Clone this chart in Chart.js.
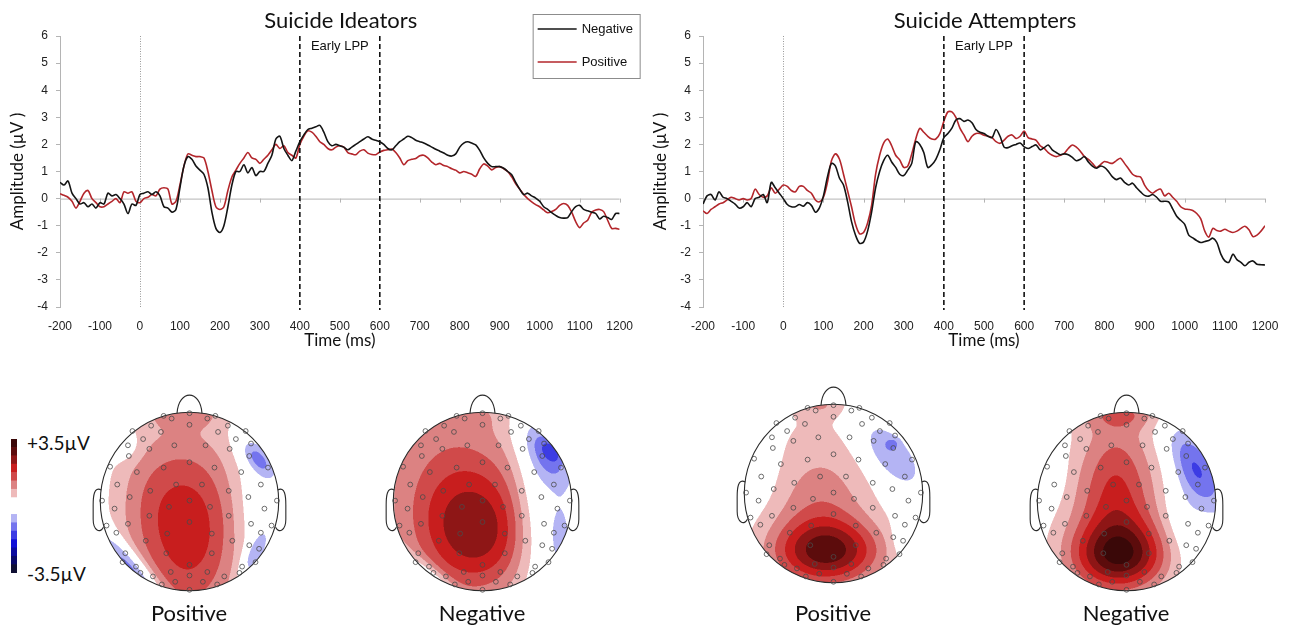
<!DOCTYPE html>
<html lang="en">
<head>
<meta charset="UTF-8">
<title>Early LPP - Suicide Ideators vs Attempters</title>
<script src="https://cdn.jsdelivr.net/npm/chart.js@4.4.0/dist/chart.umd.min.js"></script>
<style>
  body { margin: 0; background: #fff; width: 1291px; height: 625px; position: relative; overflow: hidden; }
  canvas { position: absolute; }
  .lbl { position: absolute; font-family: Lato, sans-serif; color: #111; transform: translate(-50%, -50%); white-space: nowrap; }
  .cb { position: absolute; font-family: Lato, sans-serif; color: #111; font-size: 19px; transform: translateY(-50%); white-space: nowrap; }
</style>
</head>
<body>

<canvas id="erpIdeators" width="645" height="360" style="left:0;top:0"></canvas>
<canvas id="erpAttempters" width="648" height="360" style="left:643px;top:0"></canvas>

<canvas id="colorbar" width="6" height="134" style="left:11px;top:439px"></canvas>
<div class="cb" style="left:27px;top:442px">+3.5µV</div>
<div class="cb" style="left:27px;top:573px">-3.5µV</div>

<canvas id="mapIdPos" width="223" height="223" style="left:78px;top:390px"></canvas>
<canvas id="mapIdNeg" width="223" height="223" style="left:371px;top:390px"></canvas>
<canvas id="mapAtPos" width="223" height="223" style="left:722px;top:382px"></canvas>
<canvas id="mapAtNeg" width="223" height="223" style="left:1015px;top:390px"></canvas>

<div class="lbl" style="left:189px;top:612px;font-size:22px">Positive</div>
<div class="lbl" style="left:482px;top:612px;font-size:22px">Negative</div>
<div class="lbl" style="left:833px;top:612px;font-size:22px">Positive</div>
<div class="lbl" style="left:1126px;top:612px;font-size:22px">Negative</div>

<script>
// time axis (ms), one sample every 10 ms
const timeMs = [
  -200,-190,-180,-170,-160,-150,-140,-130,-120,-110,
  -100,-90,-80,-70,-60,-50,-40,-30,-20,-10,
  0,10,20,30,40,50,60,70,80,90,
  100,110,120,130,140,150,160,170,180,190,
  200,210,220,230,240,250,260,270,280,290,
  300,310,320,330,340,350,360,370,380,390,
  400,410,420,430,440,450,460,470,480,490,
  500,510,520,530,540,550,560,570,580,590,
  600,610,620,630,640,650,660,670,680,690,
  700,710,720,730,740,750,760,770,780,790,
  800,810,820,830,840,850,860,870,880,890,
  900,910,920,930,940,950,960,970,980,990,
  1000,1010,1020,1030,1040,1050,1060,1070,1080,1090,
  1100,1110,1120,1130,1140,1150,1160,1170,1180,1190,
  1200
];

// Suicide Ideators
const ideatorsNegative = [
  0.6,0.5,0.65,0.2,0.0,-0.2,-0.15,-0.3,-0.2,-0.35,
  -0.15,-0.2,0.2,0.1,0.15,0.0,-0.2,-0.55,-0.2,-0.25,
  0.15,0.2,0.25,0.15,0.25,0.1,-0.3,-0.35,-0.5,-0.4,
  0.4,1.2,1.55,1.45,1.2,1.05,0.9,0.4,-0.5,-1.1,
  -1.25,-1.0,-0.3,0.5,1.0,1.0,1.25,0.95,1.15,0.85,
  1.0,1.0,1.3,1.6,2.2,2.3,1.85,1.6,1.4,1.75,
  2.1,2.35,2.55,2.6,2.65,2.7,2.45,2.1,1.95,2.0,
  1.95,1.9,1.8,1.9,2.0,2.1,2.2,2.28,2.2,2.15,
  2.1,2.0,1.85,1.8,1.95,2.1,2.2,2.3,2.25,2.15,
  2.1,2.05,1.98,1.9,1.82,1.75,1.68,1.6,1.57,1.65,
  1.9,2.05,2.1,2.05,1.98,1.78,1.5,1.3,1.18,1.18,
  1.18,1.12,1.0,0.88,0.6,0.35,0.15,0.2,0.1,0.02,
  -0.1,-0.3,-0.4,-0.52,-0.62,-0.7,-0.72,-0.7,-0.48,-0.3,
  -0.25,-0.4,-0.45,-0.5,-0.55,-0.75,-0.65,-0.7,-0.77,-0.55,
  -0.55
];
const ideatorsPositive = [
  0.18,0.12,0.05,-0.1,-0.35,-0.1,0.2,0.3,0.0,-0.15,
  -0.3,-0.3,-0.2,-0.1,0.0,-0.15,0.25,0.2,0.25,-0.1,
  -0.15,0.0,0.05,0.15,0.1,0.35,0.4,0.35,-0.2,-0.1,
  0.5,1.2,1.65,1.6,1.55,1.55,1.5,1.0,0.3,-0.3,
  -0.4,-0.3,0.3,0.8,1.05,1.3,1.5,1.7,1.5,1.45,
  1.3,1.45,1.6,1.8,2.0,1.85,1.95,1.7,1.6,1.5,
  2.0,2.3,2.5,2.45,2.3,2.1,2.0,1.85,1.8,1.9,
  1.95,1.9,1.7,1.65,1.62,1.75,1.8,1.68,1.63,1.62,
  1.72,1.78,1.8,1.83,1.7,1.5,1.25,1.4,1.45,1.48,
  1.58,1.6,1.5,1.35,1.25,1.3,1.22,1.18,1.1,1.05,
  0.95,1.0,0.95,0.9,0.82,1.1,1.28,1.2,1.06,1.15,
  1.18,1.1,1.0,0.8,0.55,0.35,0.15,0.0,-0.12,-0.22,
  -0.3,-0.42,-0.52,-0.48,-0.4,-0.25,-0.18,-0.25,-0.5,-0.85,
  -1.07,-0.9,-0.8,-0.5,-0.42,-0.4,-0.48,-0.8,-1.1,-1.1,
  -1.13
];

// Suicide Attempters
const attemptersNegative = [
  -0.2,0.1,0.15,-0.05,0.25,0.05,0.0,-0.1,-0.2,-0.35,
  -0.3,-0.15,-0.3,0.0,0.05,0.15,-0.15,0.6,0.4,0.2,
  0.0,-0.22,-0.3,-0.3,-0.22,-0.28,-0.15,-0.25,-0.5,-0.34,
  0.1,0.8,1.3,1.2,0.75,0.5,-0.1,-0.85,-1.35,-1.65,
  -1.6,-1.2,-0.5,0.4,1.0,1.4,1.6,1.35,1.15,0.9,
  0.85,1.05,1.3,2.1,2.0,1.7,1.15,1.25,1.45,1.8,
  2.25,2.4,2.6,2.9,2.95,2.85,2.9,2.8,2.55,2.45,
  2.4,2.3,2.25,2.55,2.3,1.9,1.88,1.95,2.0,2.05,
  1.91,1.85,1.92,1.98,1.8,1.88,1.98,1.8,1.7,1.62,
  1.65,1.62,1.52,1.4,1.45,1.55,1.35,1.2,1.12,1.2,
  1.15,1.0,0.8,0.7,0.76,0.6,0.5,0.57,0.4,0.25,
  0.12,0.09,0.15,0.05,-0.1,-0.1,-0.12,-0.38,-0.65,-0.8,
  -0.95,-1.35,-1.45,-1.55,-1.62,-1.58,-1.55,-1.46,-1.62,-2.05,
  -2.3,-2.35,-2.05,-2.25,-2.35,-2.48,-2.35,-2.3,-2.42,-2.44,
  -2.45
];
const attemptersPositive = [
  -0.45,-0.55,-0.4,-0.3,-0.2,-0.15,-0.05,0.05,0.0,-0.05,
  0.0,-0.05,0.0,0.35,0.15,0.05,0.1,0.4,0.2,0.35,
  0.5,0.45,0.3,0.25,0.45,0.45,0.3,0.2,-0.05,-0.12,
  0.05,0.6,1.4,1.65,1.45,0.9,0.3,-0.3,-0.95,-1.3,
  -1.25,-0.9,-0.25,0.9,1.6,2.05,2.2,1.95,1.6,1.43,
  1.15,1.2,1.65,2.2,2.59,2.45,2.3,2.2,2.2,2.4,
  2.85,3.2,3.2,3.0,2.6,2.35,2.1,2.3,2.4,2.4,
  2.34,2.3,2.25,2.1,2.04,2.16,2.3,2.35,2.22,2.3,
  2.49,2.25,2.2,2.15,1.95,1.85,1.7,1.6,1.55,1.6,
  1.67,1.85,1.98,1.9,1.75,1.55,1.45,1.3,1.15,1.25,
  1.37,1.33,1.3,1.4,1.49,1.3,1.1,0.9,0.82,0.8,
  0.5,0.3,0.2,0.3,0.35,0.1,0.2,0.05,-0.1,-0.3,
  -0.38,-0.4,-0.44,-0.55,-0.75,-1.2,-1.42,-1.1,-1.18,-1.2,
  -1.13,-1.2,-1.25,-1.2,-1.1,-1.02,-1.15,-1.4,-1.35,-1.2,
  -1.0
];

const yTicks = [-4, -3, -2, -1, 0, 1, 2, 3, 4, 5, 6];
const xTicks = [-200, -100, 0, 100, 200, 300, 400, 500, 600, 700, 800, 900, 1000, 1100, 1200];
const onsetMs = 0;
const lppWindow = [400, 600];

// topographic maps: level step and colours (colour bar from -3.5 to +3.5 µV)
const levelStep = 0.4375;
const posColors = ['#eebaba', '#dc8282', '#d04a4a', '#c81e1e', '#8e1616', '#5c0c0c', '#3a0808'];
const negColors = ['#b4b4f4', '#7474ee', '#3c3ce4', '#1010d8', '#0c0ca0', '#0a0a6a', '#101034'];
const colorbarColors = ['#101034', '#0a0a6a', '#0c0ca0', '#1010d8', '#3c3ce4', '#7474ee', '#b4b4f4',
  '#ffffff', '#ffffff',
  '#eebaba', '#dc8282', '#d04a4a', '#c81e1e', '#8e1616', '#5c0c0c', '#3a0808'];

// electrode positions (head radius = 1, nose up)
const electrodes = [
  [-0.29,0.96],[-0.2,0.93],[0,0.99],[0.2,0.93],[0.29,0.96],
  [-0.43,0.85],[0,0.86],[0.43,0.85],
  [-0.64,0.79],[-0.32,0.78],[0.32,0.78],[0.63,0.79],
  [-0.52,0.7],[0.52,0.7],
  [-0.69,0.63],[-0.45,0.59],[-0.17,0.63],[0.18,0.63],[0.45,0.59],[0.69,0.65],
  [-0.68,0.51],[0.67,0.51],
  [-0.89,0.39],[-0.59,0.33],[-0.29,0.38],[0,0.44],[0.28,0.38],[0.58,0.33],[0.88,0.38],
  [-0.81,0.19],[-0.44,0.12],[-0.15,0.19],[0.14,0.19],[0.44,0.12],[0.8,0.19],
  [-0.98,0.01],[-0.67,0.05],[-0.23,-0.06],[0,0.01],[0.23,-0.06],[0.66,0.05],[0.98,0.01],
  [-0.84,-0.08],[-0.45,-0.16],[0.44,-0.16],[0.84,-0.08],
  [-0.93,-0.27],[-0.69,-0.25],[0,-0.23],[0.69,-0.25],[0.92,-0.27],
  [-0.82,-0.35],[-0.25,-0.36],[0.25,-0.36],[0.8,-0.35],
  [-0.49,-0.44],[0.48,-0.44],
  [-0.72,-0.58],[-0.26,-0.58],[0.25,-0.58],[0.67,-0.49],[0.78,-0.53],
  [-0.75,-0.68],[-0.6,-0.73],[0,-0.71],[0.59,-0.73],[0.74,-0.68],
  [-0.55,-0.8],[-0.21,-0.79],[0,-0.83],[0.2,-0.79],[0.56,-0.8],
  [-0.41,-0.84],[0.39,-0.84],
  [-0.31,-0.93],[-0.16,-0.9],[0,-0.99],[0.15,-0.9],[0.31,-0.93]
];

// field sources per map: [x, y, sdMajor, sdMinor, angleDeg, amplitude µV]
const ideatorsPosSources = [
  [0.0,-0.32,0.44,0.8,0,2.0],
  [-0.55,0.1,0.3,0.6,0,0.45],
  [-0.05,1.0,0.32,0.12,0,0.7],
  [0.75,-0.1,0.2,0.6,0,-0.4],
  [0.76,0.48,0.18,0.09,-50,-1.1],
  [-0.62,-0.8,0.4,0.1,-50,-1.7],
  [0.72,-0.6,0.2,0.07,65,-1.0],
  [-0.72,0.62,0.12,0.12,0,-0.45]
];
const ideatorsNegSources = [
  [-0.05,-0.38,0.46,0.5,0,1.75],
  [-0.35,0.25,0.65,0.85,0,1.2],
  [-0.1,0.98,0.4,0.12,0,0.2],
  [0.62,-0.05,0.2,0.7,0,-0.8],
  [0.72,0.52,0.32,0.15,-55,-1.0],
  [0.78,0.56,0.1,0.06,-50,-0.7],
  [0.88,-0.4,0.1,0.3,0,-0.7],
  [-0.55,-0.85,0.3,0.07,-40,-0.9]
];
const attemptersPosSources = [
  [-0.06,-0.66,0.44,0.25,0,2.1],
  [-0.12,-0.25,0.38,0.5,0,0.7],
  [-0.2,0.05,0.55,1.0,0,0.5],
  [-0.15,1.0,0.2,0.1,0,0.6],
  [0.62,0.45,0.34,0.17,-50,-1.0],
  [0.66,0.56,0.05,0.04,0,-0.5],
  [0.8,-0.5,0.1,0.15,0,-0.5],
  [-0.82,0.35,0.15,0.3,0,-0.35]
];
const attemptersNegSources = [
  [-0.08,-0.62,0.38,0.26,0,2.1],
  [-0.1,-0.3,0.35,0.45,0,0.9],
  [-0.12,0.35,0.28,0.5,0,0.9],
  [-0.15,0.0,0.6,0.9,0,0.5],
  [-0.05,0.98,0.35,0.12,0,0.8],
  [0.78,0.38,0.38,0.16,-60,-1.35],
  [0.65,-0.15,0.18,0.4,0,-0.5],
  [-0.85,0.35,0.12,0.25,0,-0.4]
];

const tickFont = { family: "'Liberation Sans', Arial, sans-serif", size: 12 };
const titleFont = "'Lato', sans-serif";

// ---------- ERP line charts ----------
const erpDecor = {
  id: 'erpDecor',
  beforeDatasetsDraw(chart) {
    const { ctx, chartArea: a, scales: { x, y } } = chart;
    const y0 = y.getPixelForValue(0);
    ctx.save();
    ctx.strokeStyle = '#b4b4b4';
    ctx.lineWidth = 1;
    ctx.beginPath();
    ctx.moveTo(a.left, y0 + 0.5); ctx.lineTo(a.right, y0 + 0.5);
    xTicks.forEach(t => {
      const px = Math.round(x.getPixelForValue(t)) + 0.5;
      ctx.moveTo(px, y0); ctx.lineTo(px, y0 + 4);
    });
    ctx.stroke();
    // stimulus onset
    const px0 = Math.round(x.getPixelForValue(onsetMs)) + 0.5;
    ctx.strokeStyle = '#999';
    ctx.setLineDash([1, 1.5]);
    ctx.beginPath(); ctx.moveTo(px0, a.top); ctx.lineTo(px0, a.bottom); ctx.stroke();
    ctx.restore();
  },
  afterDatasetsDraw(chart, args, o) {
    const { ctx, chartArea: a, scales: { x } } = chart;
    ctx.save();
    ctx.strokeStyle = '#111';
    ctx.lineWidth = 1.6;
    ctx.setLineDash([5, 3]);
    lppWindow.forEach(t => {
      const px = x.getPixelForValue(t);
      ctx.beginPath(); ctx.moveTo(px, a.top); ctx.lineTo(px, a.bottom + 3); ctx.stroke();
    });
    ctx.setLineDash([]);
    ctx.fillStyle = '#111';
    ctx.font = "13px 'Liberation Sans', Arial, sans-serif";
    ctx.textAlign = 'center';
    ctx.textBaseline = 'alphabetic';
    ctx.fillText('Early LPP', (x.getPixelForValue(lppWindow[0]) + x.getPixelForValue(lppWindow[1])) / 2, 50);
    ctx.font = '22px ' + titleFont;
    ctx.fillText(o.title, (a.left + a.right) / 2 + 1, 28);
    if (o.legend) {
      const bx = a.right - 87, by = 14, bw = 107, bh = 64;
      ctx.strokeStyle = '#8c8c8c';
      ctx.lineWidth = 1;
      ctx.strokeRect(bx + 0.5, by + 0.5, bw, bh);
      ctx.font = "13px 'Liberation Sans', Arial, sans-serif";
      ctx.textAlign = 'left';
      ctx.textBaseline = 'middle';
      chart.data.datasets.forEach((ds, i) => {
        const ly = by + 15 + i * 33;
        ctx.strokeStyle = ds.borderColor;
        ctx.lineWidth = 1.5;
        ctx.beginPath(); ctx.moveTo(bx + 5, ly); ctx.lineTo(bx + 44, ly); ctx.stroke();
        ctx.fillStyle = '#111';
        ctx.fillText(ds.label, bx + 49, ly);
      });
    }
    ctx.restore();
  }
};

function makeErp(id, title, negative, positive, rightPad, legend) {
  return new Chart(document.getElementById(id), {
    type: 'line',
    data: {
      datasets: [
        { label: 'Negative', data: timeMs.map((t, i) => ({ x: t, y: negative[i] })),
          borderColor: '#141414', borderWidth: 1.6, pointRadius: 0, tension: 0.3 },
        { label: 'Positive', data: timeMs.map((t, i) => ({ x: t, y: positive[i] })),
          borderColor: '#b3262b', borderWidth: 1.6, pointRadius: 0, tension: 0.3 }
      ]
    },
    options: {
      responsive: false,
      animation: false,
      layout: { autoPadding: false, padding: { top: 36, right: rightPad, left: 0, bottom: 0 } },
      plugins: {
        legend: { display: false },
        tooltip: { enabled: false },
        erpDecor: { title: title, legend: legend }
      },
      scales: {
        x: {
          type: 'linear', min: -200, max: 1200,
          afterBuildTicks: s => { s.ticks = xTicks.map(v => ({ value: v })); },
          afterFit: s => { s.height = 53; },
          grid: { display: false, drawTicks: false },
          border: { display: false },
          ticks: { font: tickFont, color: '#222', padding: 12, maxRotation: 0, callback: v => String(v) },
          title: { display: true, text: 'Time (ms)', font: { family: titleFont, size: 17 }, color: '#111', padding: { top: 9, bottom: 9 } }
        },
        y: {
          min: -4, max: 6,
          afterBuildTicks: s => { s.ticks = yTicks.map(v => ({ value: v })); },
          afterFit: s => { s.width = 60; },
          grid: { drawOnChartArea: false, drawTicks: true, tickLength: 4, color: '#b4b4b4' },
          border: { display: true, color: '#b4b4b4' },
          ticks: { font: tickFont, color: '#222', padding: 8, callback: v => String(v) },
          title: { display: true, text: 'Amplitude (µV )', font: { family: titleFont, size: 17 }, color: '#111', padding: { top: 7, bottom: 7 } }
        }
      }
    },
    plugins: [erpDecor]
  });
}

makeErp('erpIdeators', 'Suicide Ideators', ideatorsNegative, ideatorsPositive, 23, true);
makeErp('erpAttempters', 'Suicide Attempters', attemptersNegative, attemptersPositive, 26, false);

// ---------- colour bar ----------
new Chart(document.getElementById('colorbar'), {
  type: 'bar',
  data: {
    labels: [''],
    datasets: colorbarColors.map(c => ({ data: [1], backgroundColor: c, borderWidth: 0, barPercentage: 1, categoryPercentage: 1 }))
  },
  options: {
    responsive: false,
    animation: false,
    layout: { autoPadding: false, padding: 0 },
    plugins: { legend: { display: false }, tooltip: { enabled: false } },
    scales: {
      x: { display: false, stacked: true },
      y: { display: false, stacked: true, min: 0, max: colorbarColors.length }
    }
  }
});

// ---------- topographic maps ----------
function hexRgb(h) {
  return [parseInt(h.slice(1, 3), 16), parseInt(h.slice(3, 5), 16), parseInt(h.slice(5, 7), 16)];
}
const posRgb = posColors.map(hexRgb), negRgb = negColors.map(hexRgb);

function fieldAt(src, vx, vy) {
  let s = 0;
  for (const [cx, cy, sa, sb, ang, amp] of src) {
    const t = ang * Math.PI / 180, dx = vx - cx, dy = vy - cy;
    const u = dx * Math.cos(t) + dy * Math.sin(t), v = -dx * Math.sin(t) + dy * Math.cos(t);
    s += amp * Math.exp(-0.5 * (u * u / (sa * sa) + v * v / (sb * sb)));
  }
  return s;
}

const headPlugin = {
  id: 'head',
  beforeDatasetsDraw(chart, args, o) {
    const { ctx, chartArea: a, scales: { x, y } } = chart;
    const ss = 2;
    const w = Math.round(a.right - a.left) * ss, h = Math.round(a.bottom - a.top) * ss;
    const off = document.createElement('canvas');
    off.width = w; off.height = h;
    const octx = off.getContext('2d');
    const img = octx.createImageData(w, h);
    for (let j = 0; j < h; j++) {
      const vy = y.getValueForPixel(a.top + (j + 0.5) / ss);
      for (let i = 0; i < w; i++) {
        const vx = x.getValueForPixel(a.left + (i + 0.5) / ss);
        if (vx * vx + vy * vy > 1.02) continue;
        const v = fieldAt(o.sources, vx, vy);
        const k = Math.min(7, Math.floor(Math.abs(v) / levelStep));
        const c = k === 0 ? [255, 255, 255] : (v > 0 ? posRgb[k - 1] : negRgb[k - 1]);
        const p = (j * w + i) * 4;
        img.data[p] = c[0]; img.data[p + 1] = c[1]; img.data[p + 2] = c[2]; img.data[p + 3] = 255;
      }
    }
    octx.putImageData(img, 0, 0);
    const cx = x.getPixelForValue(0), cy = y.getPixelForValue(0), r = x.getPixelForValue(1) - cx;
    ctx.save();
    ctx.beginPath(); ctx.arc(cx, cy, r, 0, Math.PI * 2); ctx.clip();
    ctx.imageSmoothingEnabled = true;
    ctx.drawImage(off, a.left, a.top, w / ss, h / ss);
    ctx.restore();

    const X = v => x.getPixelForValue(v), Y = v => y.getPixelForValue(v);
    ctx.save();
    ctx.strokeStyle = '#2a2a2a';
    ctx.lineWidth = 1.1;
    ctx.beginPath(); ctx.arc(cx, cy, r, 0, Math.PI * 2); ctx.stroke();
    // nose
    ctx.beginPath();
    ctx.moveTo(X(-0.14), Y(0.99));
    ctx.bezierCurveTo(X(-0.12), Y(1.26), X(0.12), Y(1.26), X(0.14), Y(0.99));
    ctx.stroke();
    // ears
    [-1, 1].forEach(sd => {
      ctx.beginPath();
      ctx.moveTo(X(sd * 0.99), Y(0.13));
      ctx.bezierCurveTo(X(sd * 1.07), Y(0.17), X(sd * 1.08), Y(0.06), X(sd * 1.08), Y(-0.04));
      ctx.lineTo(X(sd * 1.08), Y(-0.2));
      ctx.bezierCurveTo(X(sd * 1.08), Y(-0.33), X(sd * 1.0), Y(-0.36), X(sd * 0.965), Y(-0.29));
      ctx.stroke();
    });
    ctx.restore();
  }
};

function makeMap(id, sources) {
  return new Chart(document.getElementById(id), {
    type: 'scatter',
    data: {
      datasets: [{
        data: electrodes.map(e => ({ x: e[0], y: e[1] })),
        pointRadius: 2.4, pointBorderWidth: 0.8,
        pointBorderColor: '#4a4a4a', pointBackgroundColor: 'rgba(0,0,0,0)', clip: false
      }]
    },
    options: {
      responsive: false,
      animation: false,
      layout: { autoPadding: false, padding: 0 },
      plugins: { legend: { display: false }, tooltip: { enabled: false }, head: { sources: sources } },
      scales: {
        x: { type: 'linear', min: -1.25, max: 1.25, display: false },
        y: { type: 'linear', min: -1.25, max: 1.25, display: false }
      }
    },
    plugins: [headPlugin]
  });
}

makeMap('mapIdPos', ideatorsPosSources);
makeMap('mapIdNeg', ideatorsNegSources);
makeMap('mapAtPos', attemptersPosSources);
makeMap('mapAtNeg', attemptersNegSources);
</script>
</body>
</html>
